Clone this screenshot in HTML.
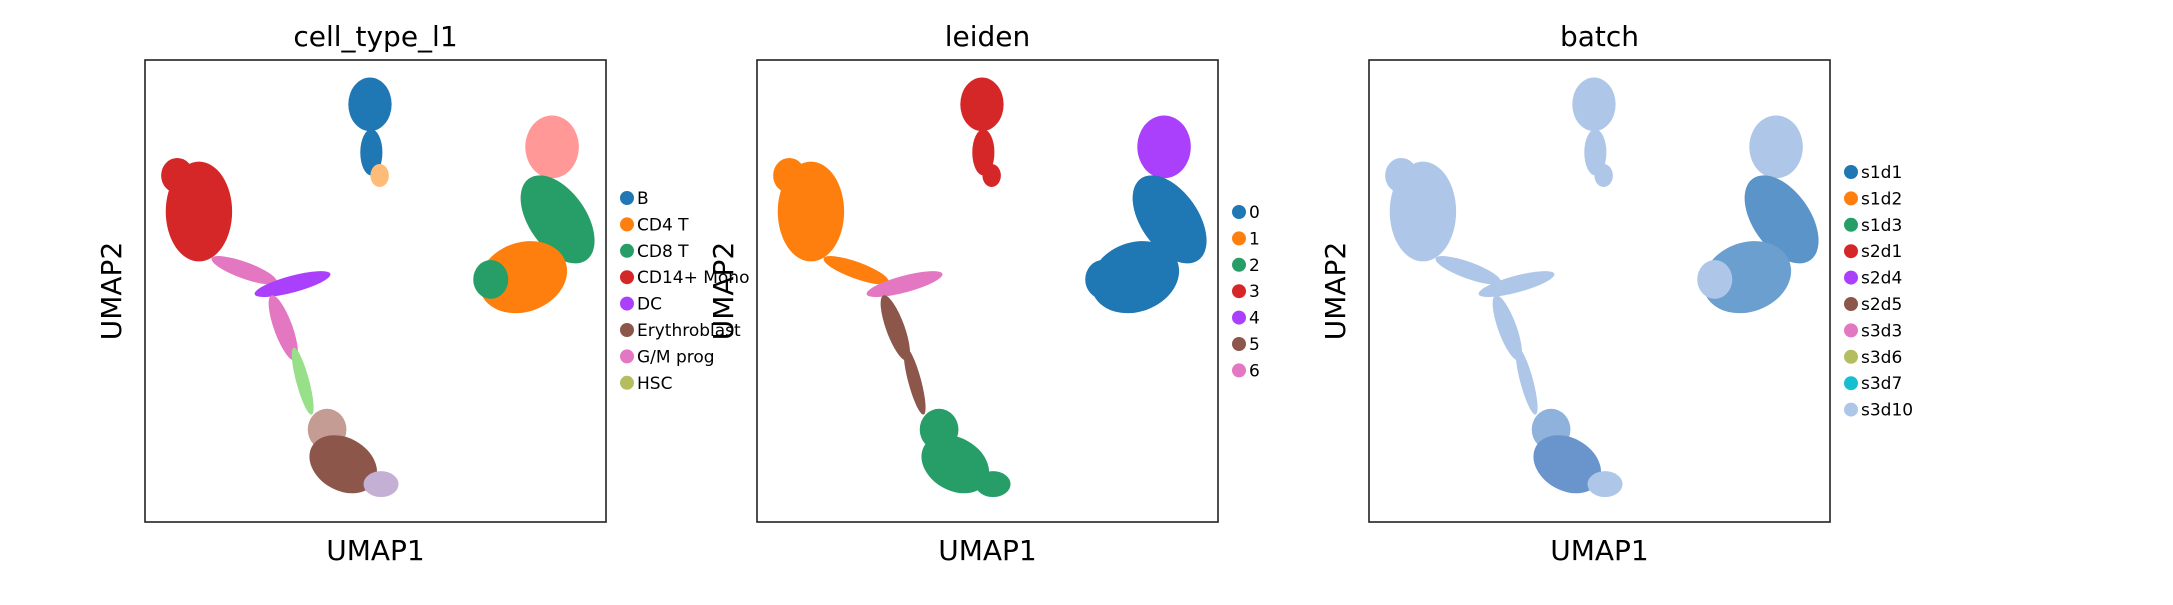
<!DOCTYPE html>
<html><head><meta charset="utf-8"><style>
body{margin:0;background:#fff}
svg text{font-family:"DejaVu Sans","Liberation Sans",sans-serif;fill:#000}
</style></head><body>
<svg id="fig" width="2173" height="600" viewBox="0 0 2173 600" xmlns="http://www.w3.org/2000/svg"></svg>
<script>
// UMAP data space 0..10 for both axes (cluster shapes)
const blobNames = ["b-top","b-stem","b-tail","pink-top","cd8","cd4","cd4-edge","mono-top","mono","gm-trail","dc","traj-pink","traj-green","ery-light","ery","ery-lav"];
const blobX  = [4.88,4.91,5.09,8.83,8.95,8.2,7.5,0.7,1.17,2.15,3.2,3.0,3.42,3.95,4.3,5.12];
const blobY  = [9.04,8.0,7.5,8.12,6.55,5.3,5.25,7.5,6.72,5.45,5.15,4.2,3.05,2.0,1.25,0.82];
const blobRx = [0.47,0.24,0.2,0.58,0.62,0.98,0.38,0.35,0.72,0.75,0.85,0.2,0.14,0.42,0.78,0.38];
const blobRy = [0.58,0.5,0.25,0.68,1.08,0.75,0.42,0.38,1.08,0.18,0.18,0.75,0.75,0.45,0.57,0.28];
const blobRot= [0,0,0,0,-35,-20,0,0,0,20,-15,-20,-15,0,30,0];
// category of each blob per panel
const cellTypeCat = ["#1f77b4","#1f77b4","#ffbb78","#ff9896","#279e68","#ff7f0e","#279e68","#d62728","#d62728","#e377c2","#aa40fc","#e377c2","#98df8a","#c49c94","#8c564b","#c5b0d5"];
const leidenCat   = ["#d62728","#d62728","#d62728","#aa40fc","#1f77b4","#1f77b4","#1f77b4","#ff7f0e","#ff7f0e","#ff7f0e","#e377c2","#8c564b","#8c564b","#279e68","#279e68","#279e68"];
const batchCat    = ["#aec7e8","#aec7e8","#aec7e8","#aec7e8","#5a94c8","#6a9fd0","#aec7e8","#aec7e8","#aec7e8","#aec7e8","#aec7e8","#aec7e8","#aec7e8","#8fb2dc","#6a95cc","#aec7e8"];
const legend1 = ["B","CD4 T","CD8 T","CD14+ Mono","DC","Erythroblast","G/M prog","HSC"];
const legend1C = ["#1f77b4","#ff7f0e","#279e68","#d62728","#aa40fc","#8c564b","#e377c2","#b5bd61"];
const legend2 = ["0","1","2","3","4","5","6"];
const legend2C = ["#1f77b4","#ff7f0e","#279e68","#d62728","#aa40fc","#8c564b","#e377c2"];
const legend3 = ["s1d1","s1d2","s1d3","s2d1","s2d4","s2d5","s3d3","s3d6","s3d7","s3d10"];
const legend3C = ["#1f77b4","#ff7f0e","#279e68","#d62728","#aa40fc","#8c564b","#e377c2","#b5bd61","#17becf","#aec7e8"];

const NS="http://www.w3.org/2000/svg";
const svg=document.getElementById('fig');
function mk(t,a,p){const e=document.createElementNS(NS,t);for(const k in a)e.setAttribute(k,a[k]);(p||svg).appendChild(e);return e;}
const panels=[
 {x0:145,title:"cell_type_l1",cats:cellTypeCat,leg:legend1,legC:legend1C,ly:198,key:"cell-type"},
 {x0:757,title:"leiden",cats:leidenCat,leg:legend2,legC:legend2C,ly:212,key:"leiden"},
 {x0:1369,title:"batch",cats:batchCat,leg:legend3,legC:legend3C,ly:172,key:"batch"}];
const W=461,H=462,Y0=60;
panels.forEach(p=>{
  const sx=v=>p.x0+v/10*W, sy=v=>Y0+H-v/10*H;
  const g=mk('g',{});
  
  
  const t=mk('text',{x:p.x0+W/2,y:46,'text-anchor':'middle','font-size':28},g);t.textContent=p.title;
  
  
  blobNames.forEach((n,i)=>{
    const e=mk('ellipse',{cx:sx(blobX[i]),cy:sy(blobY[i]),rx:blobRx[i]/10*W,ry:blobRy[i]/10*H,fill:p.cats[i],transform:`rotate(${blobRot[i]} ${sx(blobX[i])} ${sy(blobY[i])})`},g);
    
    
  });
  const r=mk('rect',{x:p.x0,y:Y0,width:W,height:H,fill:'none',stroke:'#222','stroke-width':1.6},g);
  
  
  const xl=mk('text',{x:p.x0+W/2,y:560,'text-anchor':'middle','font-size':28},g);xl.textContent="UMAP1";
  
  
  const yl=mk('text',{x:0,y:0,'text-anchor':'middle','font-size':28,transform:`translate(${p.x0-24},${Y0+H/2}) rotate(-90)`},g);yl.textContent="UMAP2";
  
  
  p.leg.forEach((l,i)=>{
    const y=p.ly+i*26.4;
    const c=mk('circle',{cx:p.x0+W+21,cy:y,r:7,fill:p.legC[i]},g);
    
    
    const tx=mk('text',{x:p.x0+W+31,y:y+6,'font-size':17},g);tx.textContent=l;
    
    
  });
});
</script>
</body></html>
